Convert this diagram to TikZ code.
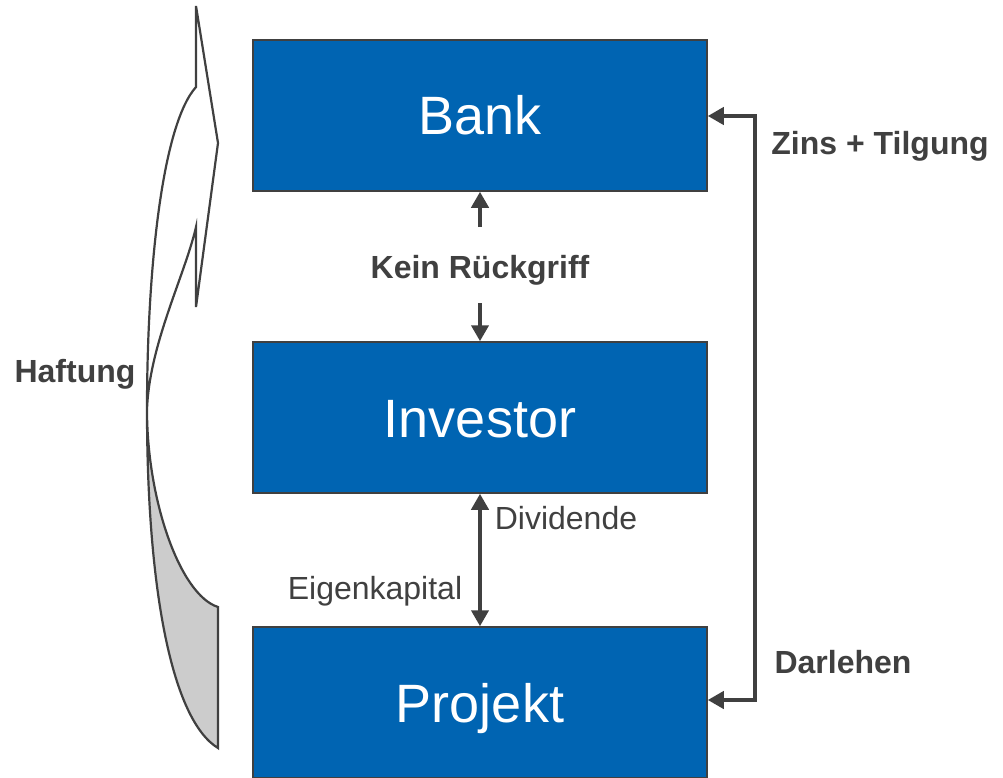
\documentclass[tikz,border=0pt]{standalone}
\usepackage{fontspec}
\setmainfont{Liberation Sans}
\usetikzlibrary{arrows.meta}
\definecolor{boxblue}{HTML}{0064B2}
\definecolor{ink}{HTML}{404040}
\definecolor{haftgray}{HTML}{CCCCCC}
\begin{document}
\begin{tikzpicture}[x=1pt,y=-1pt,
  >={Triangle[length=16pt,width=17pt]},
  box/.style={draw=ink, line width=1.5pt, fill=boxblue, text=white,
    minimum width=454pt, minimum height=151pt, inner sep=0pt,
    font=\fontsize{54}{60}\selectfont, text height=39pt, text depth=0pt},
  lab/.style={text=ink, font=\fontsize{32}{38}\selectfont, inner sep=0pt, anchor=base},
  blab/.style={lab, font=\fontsize{32}{38}\selectfont\bfseries},
  conn/.style={draw=ink, line width=4pt},
  ribbon/.style={draw=ink, line width=2.2pt, line join=miter}]
\useasboundingbox (0,0) rectangle (1003,778);
\fill[white] (0,0) rectangle (1003,778);

% boxes
\node[box] (bank) at (480,115.5) {Bank};
\node[box] (investor) at (480,417.5) {Investor};
\node[box] (projekt) at (480,702.5) {Projekt};

% labels
\node[blab] (haftung) at (75,382) {Haftung};
\node[blab] (kein) at (480,278) {Kein Rückgriff};
\node[blab] (zins) at (880,155) {Zins + Tilgung};
\node[blab] (darlehen) at (843,673) {Darlehen};
\node[lab] (dividende) at (566,529) {Dividende};
\node[lab] (eigen) at (375,599) {Eigenkapital};

% Kein Rueckgriff arrows
\coordinate (ku) at (480,227);
\coordinate (kd) at (480,303);
\draw[conn,->] (ku) -- (bank.south);
\draw[conn,->] (kd) -- (investor.north);

% Dividende / Eigenkapital
\draw[conn,<->] (investor.south) -- (projekt.north);

% Zins + Tilgung / Darlehen
\coordinate (rt) at (755,116);
\coordinate (rb) at (755,700);
\draw[conn,<->] (bank.east |- rt) -- (rt) -- (rb) -- (projekt.east |- rb);

% Haftung ribbon arrow
\fill[haftgray] (147,410) .. controls (147,590) and (172,720) .. (218,748)
  -- (218,607) .. controls (180,595) and (147,500) .. (147,410) -- cycle;
\draw[ribbon] (196,87) -- (196,6) -- (218,143) -- (196,307) -- (196,227)
  .. controls (185,275) and (149,345) .. (147,410)
  .. controls (147,500) and (180,595) .. (218,607)
  -- (218,748)
  .. controls (172,720) and (147,590) .. (147,410)
  .. controls (147,270) and (162,125) .. (196,87) -- cycle;
\end{tikzpicture}
\end{document}
